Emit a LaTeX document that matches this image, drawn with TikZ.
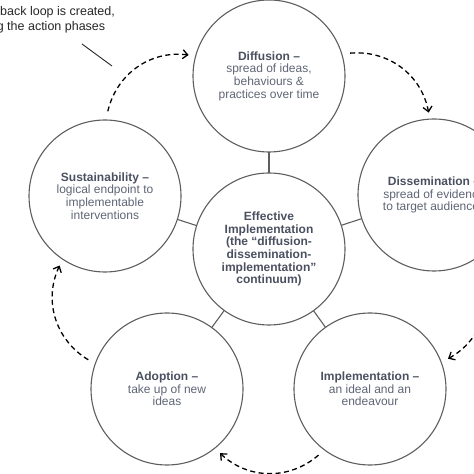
\documentclass[tikz,border=0pt]{standalone}
\usepackage{fontspec}
\setmainfont{Liberation Sans}
\usetikzlibrary{arrows.meta}
\definecolor{ring}{HTML}{5E5E5E}
\definecolor{titlec}{HTML}{4A5060}
\definecolor{bodyc}{HTML}{5F6575}
\definecolor{notec}{HTML}{262626}
\newcommand{\phtitle}[1]{{\bfseries\color{titlec}#1}}
\begin{document}
\begin{tikzpicture}[x=1pt,y=1pt,
  phase/.style={circle,draw=ring,line width=1.1pt,minimum size=152pt,inner sep=0pt,outer sep=0pt,
    align=center,text=bodyc,font=\fontsize{12}{12.7}\selectfont},
  link/.style={draw=ring,line width=1.1pt},
  loopar/.style={draw=black,line width=1.3pt,dash pattern=on 5pt off 3.5pt,
    -{Straight Barb[length=5pt,width=9pt]},bend left=42},
  pointer/.style={draw=notec,line width=0.9pt},
  note/.style={text=notec,inner sep=0pt,font=\fontsize{12.5}{15}\selectfont}
]
\useasboundingbox (0,0) rectangle (474,474);

% phases
\node[phase] (c) at (269,225) {\phtitle{Effective}\\\phtitle{Implementation}\\\phtitle{(the “diffusion-}\\\phtitle{dissemination-}\\\phtitle{implementation”}\\\phtitle{continuum)}};
\node[phase] (diff) at (269,398) {\phtitle{Diffusion –}\\spread of ideas,\\behaviours \&\\practices over time};
\node[phase] (diss) at (434,279) {\phtitle{Dissemination –}\\spread of evidence\\to target audiences};
\node[phase] (impl) at (370,85) {\phtitle{Implementation –}\\an ideal and an\\endeavour};
\node[phase] (adop) at (167,85) {\phtitle{Adoption –}\\take up of new\\ideas};
\node[phase] (sust) at (105,278) {\phtitle{Sustainability –}\\logical endpoint to\\implementable\\interventions};

% links to centre
\foreach \n in {diff,diss,impl,adop,sust}
  \draw[link] (c) -- (\n);

% feedback loop ends
\foreach \i/\a/\b in {1/139.5/112.5, 2/67.5/40.5, 3/-4.5/-31.5, 4/-76.5/-103.5, 5/-148.5/-175.5}{
  \coordinate (s\i) at ([shift={(\a:212)}]c.center);
  \coordinate (e\i) at ([shift={(\b:210)}]c.center);
}
\draw[loopar] (s1) to (e1);
\draw[loopar] (s2) to (e2);
\draw[loopar] (s3) to (e3);
\draw[loopar] (s4) to (e4);
\draw[loopar] (s5) to (e5);

% annotation
\node[note,anchor=base west] (note1) at (0,458) {back loop is created,};
\node[note,anchor=base west] (note2) at (-3.4,443) {g the action phases};
\coordinate (p1) at (82,430);
\coordinate (p2) at (112,408);
\draw[pointer] (p1) -- (p2);
\end{tikzpicture}
\end{document}
